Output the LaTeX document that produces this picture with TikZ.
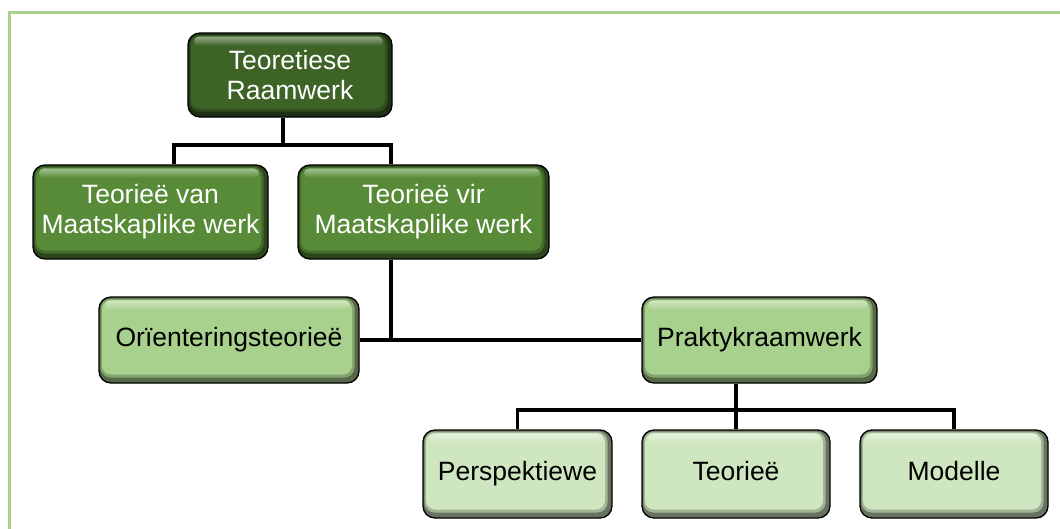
\documentclass[tikz,border=0pt]{standalone}
\usepackage{fontspec}
\setmainfont{Liberation Sans}
\definecolor{gTop}{HTML}{3E6327}
\definecolor{gMid}{HTML}{578B37}
\definecolor{gLight}{HTML}{A9D18E}
\definecolor{gPale}{HTML}{CFE7C0}
\definecolor{frameGreen}{HTML}{A9D18E}
\tikzset{
  bevelbox/.style={
    shape=rectangle, rounded corners=12pt, draw=black, line width=1.3pt,
    fill=#1!50!black, inner sep=0pt, align=center,
    font=\fontsize{26.5}{30}\selectfont,
    path picture={
      \fill[#1!78!black, rounded corners=10pt]
        ([xshift=1.5pt,yshift=-1.5pt]path picture bounding box.north west) rectangle
        ([xshift=-4.5pt,yshift=5.5pt]path picture bounding box.south east);
      \fill[#1, rounded corners=9pt]
        ([xshift=3pt,yshift=-3pt]path picture bounding box.north west) rectangle
        ([xshift=-7pt,yshift=8.5pt]path picture bounding box.south east);
      \shade[top color=#1!55!white, bottom color=#1, rounded corners=5pt]
        ([xshift=6pt,yshift=-3.5pt]path picture bounding box.north west) rectangle
        ([xshift=-9pt,yshift=-13pt]path picture bounding box.north east);
    }},
  oneline/.style={text height=19pt, text depth=5.5pt},
  conn/.style={draw=black, line width=3.6pt}
}
\begin{document}
\begin{tikzpicture}[x=1pt,y=-1pt]
\useasboundingbox (0,0) rectangle (1060,528);
% outer frame
\draw[frameGreen, line width=3pt] (9.5,12.5) rectangle (1080,545);

% boxes
\node[bevelbox=gTop, text=white, minimum width=204pt, minimum height=84pt]
  (top) at (290,75) {Teoretiese\\Raamwerk};
\node[bevelbox=gMid, text=white, minimum width=235pt, minimum height=94pt]
  (van) at (150.5,212) {Teorieë van\\Maatskaplike werk};
\node[bevelbox=gMid, text=white, minimum width=251pt, minimum height=94pt]
  (vir) at (423.5,212) {Teorieë vir\\Maatskaplike werk};
\node[bevelbox=gLight, oneline, text=black, minimum width=260pt, minimum height=86pt]
  (orient) at (229,340) {Orïenteringsteorieë};
\node[bevelbox=gLight, oneline, text=black, minimum width=235pt, minimum height=86pt]
  (prak) at (759.5,340) {Praktykraamwerk};
\node[bevelbox=gPale, oneline, text=black, minimum width=189pt, minimum height=88pt]
  (persp) at (517.5,474) {Perspektiewe};
\node[bevelbox=gPale, oneline, text=black, minimum width=188pt, minimum height=88pt]
  (teorie) at (736,474) {Teorieë};
\node[bevelbox=gPale, oneline, text=black, minimum width=188pt, minimum height=88pt]
  (modelle) at (954,474) {Modelle};

% connector guides
\coordinate (bus1) at (0,145);
\coordinate (bus2) at (0,410);
\coordinate (xtop) at (283,0);
\coordinate (xvan) at (174,0);
\coordinate (xvir) at (391,0);
\coordinate (xprak) at (736,0);

% connectors
\draw[conn] (top.south -| xtop) -- (bus1 -| xtop);
\draw[conn] (van.north -| xvan) |- (bus1 -| xvir) -- (vir.north -| xvir);
\draw[conn] (vir.south -| xvir) -- (orient.east -| xvir);
\draw[conn] (orient.east) -- (prak.west);
\draw[conn] (prak.south -| xprak) -- (teorie.north);
\draw[conn] (persp.north) |- (bus2 -| modelle) -- (modelle.north);
\end{tikzpicture}
\end{document}
